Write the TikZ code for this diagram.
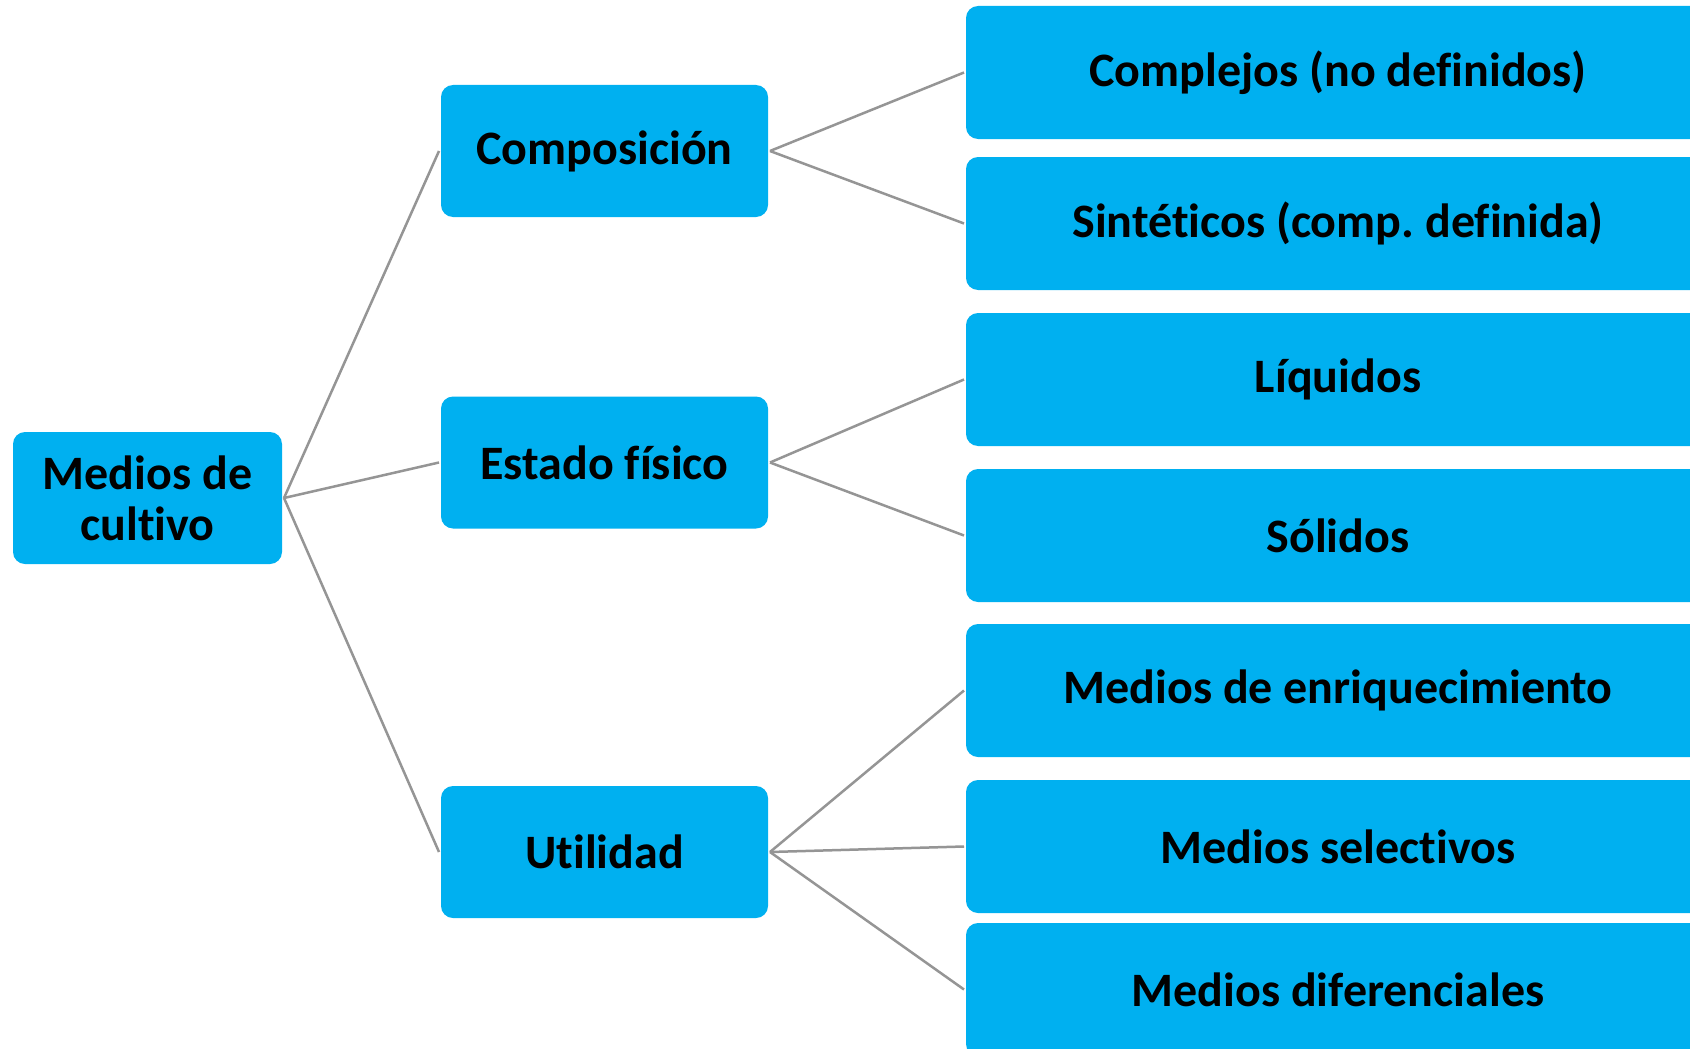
\documentclass[tikz,border=0pt]{standalone}
\usepackage{fontspec}
\setmainfont[Ligatures={NoCommon}]{Carlito}
\frenchspacing
\definecolor{boxblue}{HTML}{00B0F0}
\definecolor{linegray}{HTML}{959595}
\begin{document}
\begin{tikzpicture}[x=1pt,y=-1pt,
  box/.style={fill=boxblue, draw=none, rounded corners=12pt, inner sep=0pt, outer sep=2pt,
    font=\fontsize{48}{51}\selectfont\bfseries, text=black, align=center},
  rootbox/.style={box, minimum width=269pt, minimum height=132pt},
  midbox/.style={box, minimum width=327pt, minimum height=132pt},
  leafbox/.style={box, minimum width=744pt, minimum height=133pt},
  link/.style={draw=linegray, line width=2.5pt}]
\useasboundingbox (0,0) rectangle (1690,1049);
\clip (0,0) rectangle (1690,1049);
\fill[white] (0,0) rectangle (1690,1049);

\node[rootbox] (root) at (147.5,498) {Medios de\\cultivo};

\node[midbox] (comp) at (604.5,151) {Composición};
\node[midbox] (est)  at (604.5,462.5) {Estado físico};
\node[midbox] (util) at (604.5,852) {Utilidad};

\node[leafbox] (l1) at (1338,72.5)  {Complejos (no definidos)};
\node[leafbox] (l2) at (1338,223.5) {Sintéticos (comp.\ definida)};
\node[leafbox] (l3) at (1338,379.5) {Líquidos};
\node[leafbox] (l4) at (1338,535.5) {Sólidos};
\node[leafbox] (l5) at (1338,690.5) {Medios de enriquecimiento};
\node[leafbox] (l6) at (1338,846.5) {Medios selectivos};
\node[leafbox] (l7) at (1338,989.5) {Medios diferenciales};

\draw[link] (root.east) -- (comp.west);
\draw[link] (root.east) -- (est.west);
\draw[link] (root.east) -- (util.west);
\draw[link] (comp.east) -- (l1.west);
\draw[link] (comp.east) -- (l2.west);
\draw[link] (est.east) -- (l3.west);
\draw[link] (est.east) -- (l4.west);
\draw[link] (util.east) -- (l5.west);
\draw[link] (util.east) -- (l6.west);
\draw[link] (util.east) -- (l7.west);
\end{tikzpicture}
\end{document}
